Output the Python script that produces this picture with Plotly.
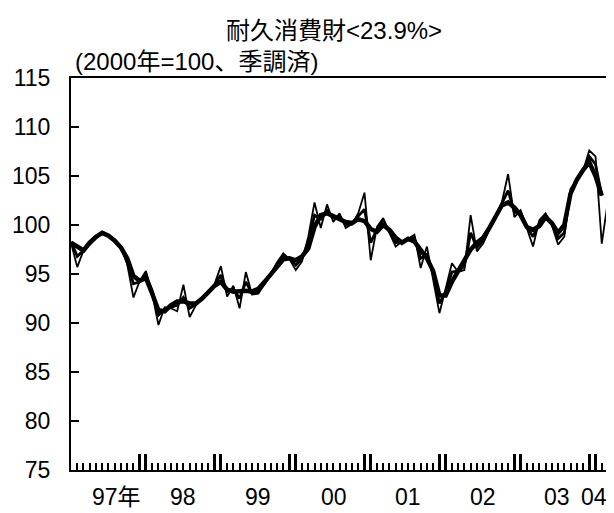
import plotly.graph_objects as go

# Month index: 0 = Jan 1997 ... 86 = Mar 2004
monthly = [98.2, 95.7, 97.4, 98.2, 98.8, 99.3, 99.0, 98.5, 97.8, 96.0, 92.6, 94.3,
           95.3, 93.0, 89.8, 91.6, 91.5, 91.2, 93.9, 90.6, 91.8, 92.5, 93.2, 94.0,
           95.8, 92.7, 93.8, 91.5, 95.2, 92.9, 93.0, 94.0, 95.0, 96.2, 97.1, 96.5,
           95.4, 96.3, 98.8, 102.3, 99.7, 102.1, 100.3, 101.2, 99.7, 100.1, 101.2, 103.3,
           96.4, 99.8, 100.7, 99.2, 97.8, 98.3, 98.6, 99.0, 95.6, 97.8, 94.5, 91.0,
           93.5, 96.1, 95.2, 95.4, 101.0, 97.3, 98.1, 99.5, 100.7, 102.3, 105.2, 100.8,
           101.5, 99.7, 97.8, 100.5, 101.2, 100.0, 98.0, 98.8, 103.7, 104.6, 105.5, 107.6,
           107.0, 98.1, 102.5]

medium = [98.3, 96.8, 97.4, 98.1, 98.7, 99.2, 98.9, 98.4, 97.7, 96.2, 94.0, 94.2,
          94.9, 93.3, 90.8, 91.4, 91.6, 91.8, 92.6, 91.5, 91.9, 92.5, 93.1, 93.9,
          94.9, 93.2, 93.5, 92.5, 94.2, 93.0, 93.2, 94.0, 95.0, 96.0, 96.8, 96.6,
          95.9, 96.6, 98.3, 101.0, 100.6, 101.5, 100.7, 100.9, 100.0, 100.1, 100.9, 101.6,
          98.2, 99.6, 100.4, 99.3, 98.2, 98.3, 98.6, 98.7, 96.6, 97.0, 95.0, 92.0,
          93.2, 95.2, 95.3, 95.8, 99.2, 97.7, 98.4, 99.6, 100.8, 102.2, 103.5, 101.3,
          101.3, 99.8, 98.8, 100.2, 101.0, 100.1, 98.6, 99.2, 103.4, 104.6, 105.5, 107.0,
          106.2, 103.0]

thick = [98.2, 97.8, 97.4, 98.2, 98.8, 99.2, 98.9, 98.4, 97.7, 96.6, 94.8, 94.3,
         94.6, 93.0, 91.3, 91.2, 91.8, 92.2, 92.2, 92.0, 92.0, 92.5, 93.2, 93.8,
         94.2, 93.4, 93.2, 93.3, 93.3, 93.2, 93.5, 94.2, 95.0, 95.8, 96.5, 96.6,
         96.4, 96.8, 97.6, 99.8, 101.0, 101.2, 100.9, 100.6, 100.3, 100.2, 100.6, 100.4,
         99.6, 99.3, 100.0, 99.5, 98.7, 98.2, 98.6, 98.3, 97.4, 96.6, 95.3, 92.8,
         92.8, 94.2, 95.3, 96.3, 97.5, 98.2, 98.7, 99.7, 100.8, 102.0, 102.3, 101.8,
         101.0, 99.8, 99.5, 99.9, 100.8, 100.2, 99.2, 100.0, 103.2, 104.6, 105.6, 106.4,
         105.0, 103.0]

year_labels = ["97年", "98", "99", "00", "01", "02", "03", "04"]
year_label_pos = [7.3, 18.0, 30.0, 42.1, 54.0, 66.0, 77.9, 83.8]
major_ticks = [11, 12, 23, 24, 35, 36, 47, 48, 59, 60, 71, 72, 83, 84]

FONT = "Liberation Sans, Arial, Noto Sans CJK JP, sans-serif"

fig = go.Figure()
fig.add_trace(go.Scatter(x=list(range(len(monthly))), y=monthly, mode="lines",
                         line=dict(color="black", width=1.8), showlegend=False))
fig.add_trace(go.Scatter(x=list(range(len(medium))), y=medium, mode="lines",
                         line=dict(color="black", width=2.8), showlegend=False))
fig.add_trace(go.Scatter(x=list(range(len(thick))), y=thick, mode="lines",
                         line=dict(color="black", width=4.5), showlegend=False))

fig.update_layout(
    width=606, height=505,
    margin=dict(l=60, r=4, t=70, b=43),
    paper_bgcolor="white", plot_bgcolor="white",
    font=dict(family=FONT, size=24, color="black"),
    showlegend=False,
)
fig.update_xaxes(
    range=[0, 86], showgrid=False, zeroline=False,
    showline=True, linecolor="black", linewidth=2, mirror=True,
    tickmode="array", tickvals=major_ticks, ticktext=[""] * len(major_ticks),
    ticks="inside", ticklen=16, tickwidth=3, tickcolor="black",
    minor=dict(tick0=0, dtick=1, ticks="inside", ticklen=7, tickwidth=1.5, tickcolor="black"),
)
fig.update_yaxes(
    range=[75, 115], dtick=5, tick0=75, showgrid=False, zeroline=False,
    showline=True, linecolor="black", linewidth=2, mirror=True,
    ticks="inside", ticklen=8, tickwidth=2, tickcolor="black",
    tickfont=dict(size=23), ticklabelstandoff=14,
)

for lab, pos in zip(year_labels, year_label_pos):
    fig.add_annotation(x=pos, y=-0.069, xref="x", yref="paper", text=lab,
                       showarrow=False, xanchor="center", yanchor="middle",
                       font=dict(size=23))

fig.add_annotation(x=0.489, y=1.1224, xref="paper", yref="paper",
                   text="耐久消費財<23.9%>", showarrow=False,
                   xanchor="center", yanchor="middle", font=dict(size=24))
fig.add_annotation(x=0.004, y=1.041, xref="paper", yref="paper",
                   text="(2000年=100、季調済)", showarrow=False,
                   xanchor="left", yanchor="middle", font=dict(size=24))

fig.write_html("out.html")
